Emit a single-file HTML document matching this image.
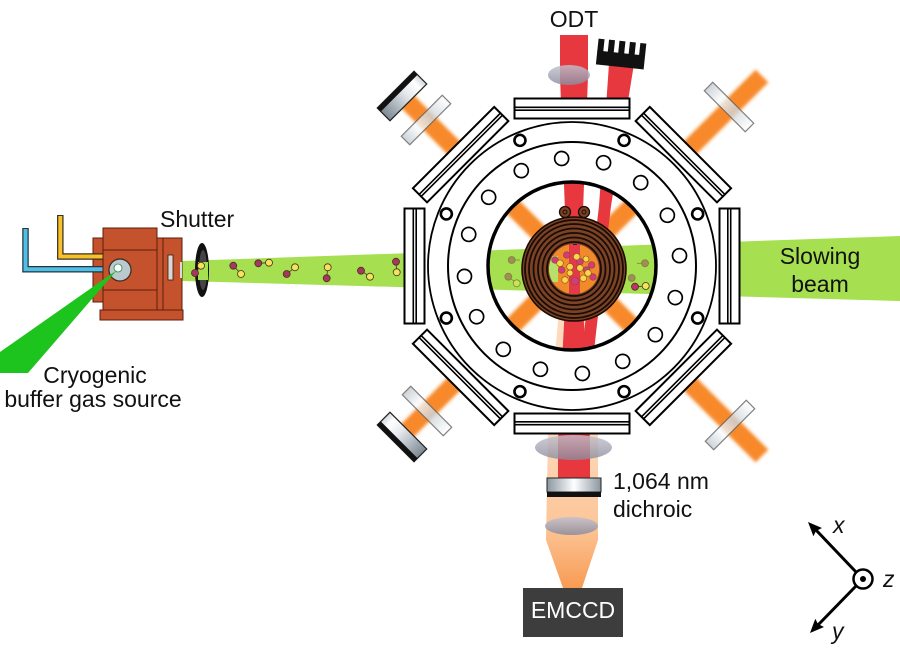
<!DOCTYPE html>
<html><head><meta charset="utf-8"><style>html,body{margin:0;padding:0;background:#fff}svg{display:block}</style></head>
<body>
<svg width="900" height="659" viewBox="0 0 900 659" xmlns="http://www.w3.org/2000/svg" xmlns:xlink="http://www.w3.org/1999/xlink" font-family="'Liberation Sans', Arial, sans-serif">
<defs>
<filter id="bl" x="-10%" y="-10%" width="120%" height="120%"><feGaussianBlur stdDeviation="1.6"/></filter>
<linearGradient id="mg" x1="0" y1="0" x2="1" y2="0"><stop offset="0" stop-color="#7c8893"/><stop offset="0.6" stop-color="#e6eaee"/><stop offset="0.85" stop-color="#ffffff"/><stop offset="1" stop-color="#cfd6dc"/></linearGradient>
<linearGradient id="mg2" x1="1" y1="0" x2="0" y2="0"><stop offset="0" stop-color="#7c8893"/><stop offset="0.6" stop-color="#e6eaee"/><stop offset="0.85" stop-color="#ffffff"/><stop offset="1" stop-color="#cfd6dc"/></linearGradient>
<linearGradient id="wg" x1="0" y1="0" x2="1" y2="0"><stop offset="0" stop-color="#c3cad0"/><stop offset="0.3" stop-color="#fafbfc"/><stop offset="0.6" stop-color="#cdd3d8"/><stop offset="1" stop-color="#ffffff"/></linearGradient>
<linearGradient id="dg" x1="0" y1="0" x2="1" y2="0"><stop offset="0" stop-color="#8a96a0"/><stop offset="0.5" stop-color="#ffffff"/><stop offset="1" stop-color="#8a96a0"/></linearGradient>
<linearGradient id="lg" x1="0" y1="0" x2="0" y2="1"><stop offset="0" stop-color="#c2c2ce"/><stop offset="1" stop-color="#8a8a9c"/></linearGradient>
<linearGradient id="pg" gradientUnits="userSpaceOnUse" x1="0" y1="433" x2="0" y2="590"><stop offset="0" stop-color="#fdd9bd"/><stop offset="0.6" stop-color="#fcc597"/><stop offset="1" stop-color="#f79a52"/></linearGradient>
<clipPath id="cin"><circle cx="574" cy="269" r="25"/></clipPath>
<g id="fl"><rect x="514.5" y="98.5" width="115" height="20" fill="#fff" stroke="#000" stroke-width="2"/><line x1="514.5" y1="107.3" x2="629.5" y2="107.3" stroke="#000" stroke-width="1.6"/><line x1="514.5" y1="110.2" x2="629.5" y2="110.2" stroke="#000" stroke-width="1.6"/></g>
<circle id="hole" cx="572" cy="158" r="7" fill="#fff" stroke="#000" stroke-width="1.7"/>
<circle id="bolt" cx="572" cy="130" r="5.5" fill="#fff" stroke="#000" stroke-width="2.6"/>
</defs>

<rect width="900" height="659" fill="#fff"/>

<!-- slowing beam -->
<polygon points="182,261 900,236 900,301 182,281" fill="#a6e050"/>
<!-- imaging beam -->
<polygon points="560,300 594,300 598,433 598,540 582,588 563,588 546,540 548,433" fill="url(#pg)"/>
<!-- MOT beams -->
<g filter="url(#bl)" stroke="#f7892c" stroke-width="18"><line x1="398" y1="92" x2="762" y2="456"/><line x1="398" y1="440" x2="762" y2="76"/></g>
<!-- ODT beams -->
<polygon fill="#e8383f" points="560,35 588,35 588,76 581,266 590,440 590,478 558,478 558,440 567,266 560,76"/>
<polygon fill="#e8383f" points="609,64 634,64 611,206 596,333 584,440 572,440 584,333 599,206"/>

<!-- molecules along beam -->
<g stroke="#4a3020" stroke-width="0.8">
<line x1="233.3" y1="265.7" x2="241" y2="274"/><circle cx="233.3" cy="265.7" r="3.5" fill="#a5385d"/><circle cx="241" cy="274" r="3.5" fill="#f3e45c"/>
<line x1="258.3" y1="263.3" x2="269" y2="262.7"/><circle cx="258.3" cy="263.3" r="3.5" fill="#a5385d"/><circle cx="269" cy="262.7" r="3.5" fill="#f3e45c"/>
<line x1="286.7" y1="274" x2="295" y2="267.3"/><circle cx="286.7" cy="274" r="3.5" fill="#a5385d"/><circle cx="295" cy="267.3" r="3.5" fill="#f3e45c"/>
<line x1="327.7" y1="267.3" x2="326.7" y2="278.3"/><circle cx="327.7" cy="267.3" r="3.5" fill="#f3e45c"/><circle cx="326.7" cy="278.3" r="3.5" fill="#a5385d"/>
<line x1="361" y1="270.7" x2="370" y2="276.7"/><circle cx="361" cy="270.7" r="3.5" fill="#a5385d"/><circle cx="370" cy="276.7" r="3.5" fill="#f3e45c"/>
<line x1="396" y1="261.7" x2="396.7" y2="272.3"/><circle cx="396" cy="261.7" r="3.5" fill="#a5385d"/><circle cx="396.7" cy="272.3" r="3.5" fill="#f3e45c"/>
</g>
<!-- molecules inside chamber -->
<g stroke="#4a3020" stroke-width="0.8">
<g opacity="0.5"><line x1="511.7" y1="260" x2="520" y2="260"/><circle cx="511.7" cy="260" r="3.5" fill="#a5385d"/>
<line x1="508.3" y1="276.7" x2="516.7" y2="283.3"/><circle cx="508.3" cy="276.7" r="3.5" fill="#a5385d"/><circle cx="516.7" cy="283.3" r="3.5" fill="#f3e45c"/>
<line x1="645" y1="263.3" x2="637" y2="263.3"/><circle cx="645" cy="263.3" r="3.5" fill="#a5385d"/>
<circle cx="631.7" cy="278" r="3.5" fill="#a5385d"/></g>
<line x1="635" y1="286.7" x2="645.7" y2="286"/><circle cx="635" cy="286.7" r="3.5" fill="#c0306a"/><circle cx="645.7" cy="286" r="3.5" fill="#f3e45c"/>
</g>

<!-- chamber body -->
<path fill="#fff" fill-rule="evenodd" d="M634.2,116 L722,203.8 L722,328.2 L634.2,416 L509.8,416 L422,328.2 L422,203.8 L509.8,116 Z M488,266 a84,84 0 1,0 168,0 a84,84 0 1,0 -168,0 Z"/>
<use xlink:href="#fl"/>
<use xlink:href="#fl" transform="rotate(45 572 266)"/>
<use xlink:href="#fl" transform="rotate(90 572 266)"/>
<use xlink:href="#fl" transform="rotate(135 572 266)"/>
<use xlink:href="#fl" transform="rotate(180 572 266)"/>
<use xlink:href="#fl" transform="rotate(225 572 266)"/>
<use xlink:href="#fl" transform="rotate(270 572 266)"/>
<use xlink:href="#fl" transform="rotate(315 572 266)"/>
<circle cx="572" cy="266" r="144" fill="none" stroke="#000" stroke-width="1.8"/>
<circle cx="572" cy="266" r="124" fill="none" stroke="#000" stroke-width="2"/>
<circle cx="572" cy="266" r="84" fill="none" stroke="#000" stroke-width="3.5"/>
<use xlink:href="#bolt" transform="rotate(22.5 572 266)"/>
<use xlink:href="#bolt" transform="rotate(67.5 572 266)"/>
<use xlink:href="#bolt" transform="rotate(112.5 572 266)"/>
<use xlink:href="#bolt" transform="rotate(157.5 572 266)"/>
<use xlink:href="#bolt" transform="rotate(202.5 572 266)"/>
<use xlink:href="#bolt" transform="rotate(247.5 572 266)"/>
<use xlink:href="#bolt" transform="rotate(292.5 572 266)"/>
<use xlink:href="#bolt" transform="rotate(337.5 572 266)"/>
<use xlink:href="#hole" transform="rotate(17 572 266)"/>
<use xlink:href="#hole" transform="rotate(39.5 572 266)"/>
<use xlink:href="#hole" transform="rotate(62 572 266)"/>
<use xlink:href="#hole" transform="rotate(84.5 572 266)"/>
<use xlink:href="#hole" transform="rotate(107 572 266)"/>
<use xlink:href="#hole" transform="rotate(129.5 572 266)"/>
<use xlink:href="#hole" transform="rotate(152 572 266)"/>
<use xlink:href="#hole" transform="rotate(174.5 572 266)"/>
<use xlink:href="#hole" transform="rotate(197 572 266)"/>
<use xlink:href="#hole" transform="rotate(219.5 572 266)"/>
<use xlink:href="#hole" transform="rotate(242 572 266)"/>
<use xlink:href="#hole" transform="rotate(264.5 572 266)"/>
<use xlink:href="#hole" transform="rotate(287 572 266)"/>
<use xlink:href="#hole" transform="rotate(309.5 572 266)"/>
<use xlink:href="#hole" transform="rotate(332 572 266)"/>
<use xlink:href="#hole" transform="rotate(354.5 572 266)"/>

<!-- coil -->
<circle cx="565" cy="212" r="5.5" fill="#7a4327" stroke="#1b0b02" stroke-width="1.3"/>
<circle cx="565" cy="212" r="2" fill="none" stroke="#1b0b02" stroke-width="1"/>
<circle cx="584" cy="212" r="5.5" fill="#7a4327" stroke="#1b0b02" stroke-width="1.3"/>
<circle cx="584" cy="212" r="2" fill="none" stroke="#1b0b02" stroke-width="1"/>
<circle cx="574" cy="269" r="52" fill="#7a4327" stroke="#1b0b02" stroke-width="1.6"/>
<g fill="none" stroke="#1b0b02" stroke-width="1.8">
<circle cx="574" cy="269" r="27"/><circle cx="574" cy="269" r="31.5"/><circle cx="574" cy="269" r="36"/><circle cx="574" cy="269" r="40.5"/><circle cx="574" cy="269" r="45"/><circle cx="574" cy="269" r="49"/>
</g>
<circle cx="574" cy="269" r="25" fill="#f08a2a"/>
<g clip-path="url(#cin)">
<rect x="549" y="256" width="9" height="26" fill="#b5e06a"/>
<rect x="569" y="240" width="11" height="60" fill="#e23a48"/>
<rect x="573" y="241" width="4" height="4" fill="#222"/>
<g stroke="#8a4a20" stroke-width="0.6">
<circle cx="555" cy="260" r="3.3" fill="#d23c7c"/><circle cx="566.7" cy="255" r="3.3" fill="#d23c7c"/><circle cx="580" cy="261.7" r="3.3" fill="#d23c7c"/><circle cx="591.7" cy="265" r="3.3" fill="#d23c7c"/><circle cx="561.7" cy="270" r="3.3" fill="#d23c7c"/><circle cx="586.7" cy="270" r="3.3" fill="#d23c7c"/><circle cx="575" cy="281" r="4" fill="#d23c7c"/><circle cx="593" cy="277" r="3.3" fill="#d23c7c"/>
<circle cx="560" cy="263.3" r="3.3" fill="#f6d64a"/><circle cx="576.7" cy="256.7" r="3.3" fill="#f6d64a"/><circle cx="570" cy="266.7" r="3.3" fill="#f6d64a"/><circle cx="580" cy="268" r="3.3" fill="#f6d64a"/><circle cx="588" cy="273" r="3.3" fill="#f6d64a"/><circle cx="565" cy="280" r="3.3" fill="#f6d64a"/><circle cx="583.3" cy="278.3" r="3.3" fill="#f6d64a"/><circle cx="570" cy="273" r="3" fill="#f6d64a"/><circle cx="586" cy="259" r="3" fill="#f6d64a"/>
</g>
</g>

<!-- ODT optics -->
<ellipse cx="569" cy="75" rx="21" ry="10" fill="url(#lg)" opacity="0.82"/>
<g transform="rotate(6 621 55)" fill="#111">
<rect x="597" y="53" width="48" height="14"/>
<rect x="597" y="41" width="6" height="13"/><rect x="607.5" y="41" width="6" height="13"/><rect x="618" y="41" width="6" height="13"/><rect x="628.5" y="41" width="6" height="13"/><rect x="639" y="41" width="6" height="13"/>
</g>

<!-- imaging optics -->
<ellipse cx="573.5" cy="447.5" rx="38.5" ry="12.5" fill="url(#lg)" opacity="0.8"/>
<rect x="547" y="478" width="54" height="14" fill="url(#dg)" stroke="#222" stroke-width="1"/>
<rect x="547" y="492" width="54" height="5" fill="#111"/>
<ellipse cx="571.5" cy="526" rx="26.5" ry="9" fill="url(#lg)" opacity="0.85"/>
<rect x="523" y="588" width="100" height="49" fill="#3d3d3d"/>

<!-- mirrors and windows -->
<g transform="translate(402,96) rotate(-45)"><rect x="-26" y="-9" width="52" height="18" fill="url(#mg)" stroke="#222" stroke-width="1.2"/><rect x="-26" y="-9" width="52" height="5" fill="#111"/></g>
<g transform="translate(402,437) rotate(45)"><rect x="-26" y="-9" width="52" height="18" fill="url(#mg2)" stroke="#222" stroke-width="1.2"/><rect x="-26" y="4" width="52" height="5" fill="#111"/></g>
<g opacity="0.82" stroke="#666" stroke-width="1.2" fill="url(#wg)">
<rect x="-29" y="-6" width="58" height="12" transform="translate(426,120) rotate(-45)"/>
<rect x="-29" y="-6" width="58" height="12" transform="translate(729,107) rotate(45)"/>
<rect x="-29" y="-6" width="58" height="12" transform="translate(427,411) rotate(45)"/>
<rect x="-29" y="-6" width="58" height="12" transform="translate(730,425) rotate(-45)"/>
</g>

<!-- buffer gas source -->
<g stroke="#5b1e08" stroke-width="1" fill="#c4532d">
<rect x="93" y="238" width="11" height="64"/>
</g>
<path d="M25.5,228 V269.2 H104" fill="none" stroke="#263340" stroke-width="6.5"/>
<path d="M25.5,229 V269.2 H104" fill="none" stroke="#4ec0e6" stroke-width="4"/>
<path d="M60.3,215 V256.5 H104" fill="none" stroke="#3a3020" stroke-width="6.5"/>
<path d="M60.3,216 V256.5 H104" fill="none" stroke="#f6c12a" stroke-width="4"/>
<g stroke="#5b1e08" stroke-width="1" fill="#c4532d">
<rect x="157" y="238" width="7" height="72"/>
<rect x="163" y="238" width="19" height="72"/>
<rect x="103" y="228" width="54" height="87"/>
<rect x="100" y="310" width="83" height="10"/>
<line x1="103" y1="250" x2="157" y2="250"/>
<line x1="103" y1="290" x2="157" y2="290"/>
<line x1="163" y1="238" x2="163" y2="310"/>
</g>
<rect x="168" y="255" width="5" height="25" fill="#d8d8d8" stroke="#3a1a08" stroke-width="0.8"/>
<rect x="180" y="262" width="2" height="16" fill="#d8d8d8"/>
<circle cx="120" cy="270" r="11" fill="#b9c9cd" stroke="#3a2a20" stroke-width="1.2"/>
<circle cx="118" cy="268" r="4" fill="#fff" stroke="#2a8a4a" stroke-width="0.8"/>
<polygon points="0,352 0,373 28,373 117,270" fill="#1ec41e"/>

<!-- shutter -->
<ellipse cx="202" cy="270" rx="7" ry="27" fill="#111"/>
<ellipse cx="203" cy="270" rx="4" ry="20" fill="#444"/>
<rect x="198" y="262" width="10" height="18" fill="#a6e050"/>
<g stroke="#4a3020" stroke-width="0.8">
<line x1="201" y1="265.7" x2="195" y2="273"/><circle cx="201" cy="265.7" r="3.5" fill="#f3e45c"/><circle cx="195" cy="273" r="3.5" fill="#a5385d"/>
</g>

<!-- labels -->
<g font-size="23" fill="#111">
<text x="574" y="27" text-anchor="middle">ODT</text>
<text x="160" y="227">Shutter</text>
<text x="95" y="383" text-anchor="middle">Cryogenic</text>
<text x="93" y="407" text-anchor="middle">buffer gas source</text>
<text x="820" y="264" text-anchor="middle">Slowing</text>
<text x="820" y="292" text-anchor="middle">beam</text>
<text x="613" y="489">1,064 nm</text>
<text x="613" y="517">dichroic</text>
<text x="833" y="533" font-style="italic">x</text>
<text x="832" y="639" font-style="italic">y</text>
<text x="883" y="587" font-style="italic">z</text>
</g>
<text x="573" y="618" font-size="23" text-anchor="middle" fill="#fff">EMCCD</text>

<!-- axes -->
<g stroke="#000" stroke-width="3" fill="none">
<line x1="856" y1="572" x2="816" y2="530"/>
<line x1="856" y1="586" x2="818" y2="625"/>
</g>
<polygon points="808,522 822,528 816,531 813.4,536.3" fill="#000"/>
<polygon points="810,633 815.3,618.7 818,624 824,627" fill="#000"/>
<circle cx="863" cy="579" r="9.5" fill="#fff" stroke="#000" stroke-width="2.5"/>
<circle cx="863" cy="579" r="3" fill="#000"/>
</svg>
</body></html>
